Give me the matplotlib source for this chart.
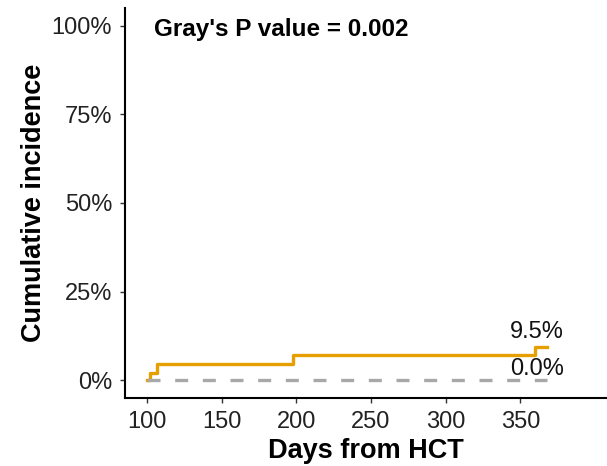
import matplotlib.pyplot as plt
import numpy as np

plt.rcParams['font.family'] = ['Liberation Sans', 'DejaVu Sans']

# step data (days, cumulative incidence in %)
days_event = [100, 102, 107, 198, 360, 368]
cif_event = [0.0, 2.1, 4.7, 7.1, 9.5, 9.5]
days_ref = [100, 368]
cif_ref = [0.0, 0.0]
end_labels = ["9.5%", "0.0%"]
y_ticks = [0, 25, 50, 75, 100]
x_ticks = [100, 150, 200, 250, 300, 350]

fig = plt.figure(figsize=(6.07, 4.66), dpi=100)
ax = fig.add_axes([0.206, 0.146, 0.794, 0.837])

ax.step(days_event, cif_event, where="post", color="#E69F00", lw=2.4)
ax.plot(days_ref, cif_ref, color="#A8A8A8", lw=2.4, linestyle=(0, (3.9, 4.4)))

ax.text(379, cif_event[-1] + 1.0, end_labels[0], ha="right", va="bottom", fontsize=17, color="#111111")
ax.text(379, cif_ref[-1] + 0.2, end_labels[1], ha="right", va="bottom", fontsize=17, color="#111111")

ax.text(104.5, 99, "Gray's P value = 0.002", fontsize=17.5, fontweight="bold", va="center")

ax.set_xlim(85.3, 408)
ax.set_ylim(-5, 105)
ax.set_xticks(x_ticks)
ax.set_yticks(y_ticks)
ax.set_yticklabels([f"{v}%" for v in y_ticks])
ax.tick_params(labelsize=17, length=3.8, width=1, color="#333333", labelcolor="#222222", pad=5.5)

ax.set_xlabel("Days from HCT", fontsize=19.5, fontweight="bold", labelpad=4)
ax.set_ylabel("Cumulative incidence", fontsize=19.5, fontweight="bold", labelpad=3)

for s in ["top", "right"]:
    ax.spines[s].set_visible(False)
for s in ["left", "bottom"]:
    ax.spines[s].set_linewidth(1.5)

fig.savefig("out.png", dpi=100)
